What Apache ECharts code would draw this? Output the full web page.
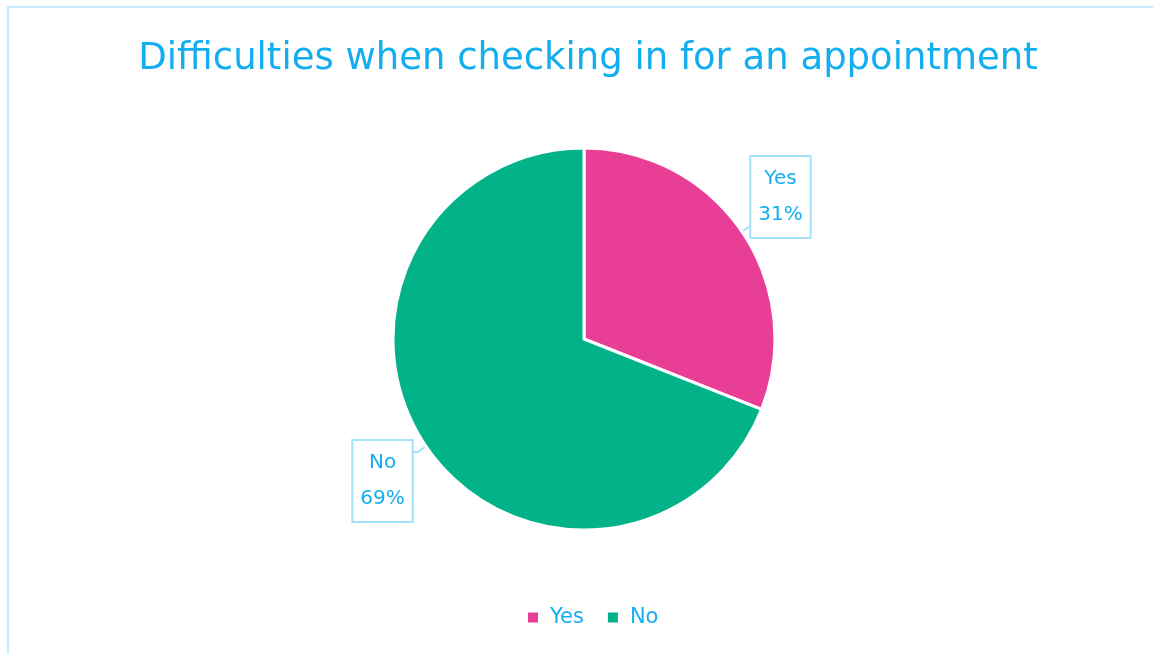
<!DOCTYPE html>
<html>
<head>
<meta charset="utf-8">
<script src="https://cdn.jsdelivr.net/npm/echarts@6/dist/echarts.min.js"></script>
<style>
html,body{margin:0;padding:0;background:#fff;overflow:hidden;}
#frame{position:absolute;left:7px;top:6px;width:1200px;height:700px;border:2px solid #c8ecfc;box-sizing:border-box;}
#chart{position:absolute;left:0;top:0;width:1153px;height:654px;}
</style>
</head>
<body>
<div id="frame"></div>
<div id="chart"></div>
<script>
const titleText = 'Difficulties when checking in for an appointment';
const categories = ['Yes', 'No'];
const values = [31, 69];
const colors = ['#e83e96', '#02b38a'];

const chart = echarts.init(document.getElementById('chart'));
const textColor = '#12aef0';
const font = 'DejaVu Sans';
chart.setOption({
  title: {
    text: titleText,
    left: 583,
    textAlign: 'center',
    top: 36,
    textStyle: { fontFamily: font, fontSize: 37, fontWeight: 'normal', color: textColor }
  },
  legend: {
    bottom: 21,
    left: 521,
    icon: 'rect',
    itemWidth: 12,
    itemHeight: 12,
    itemGap: 22,
    formatter: '{t|{name}}',
    textStyle: {
      fontFamily: font, fontSize: 21, color: textColor,
      rich: { t: { fontFamily: font, fontSize: 21, color: textColor, padding: [0, 0, 0, 6] } }
    },
    data: categories
  },
  series: [{
    type: 'pie',
    center: [584, 339],
    radius: 191,
    startAngle: 90,
    clockwise: true,
    color: colors,
    itemStyle: { borderColor: '#fff', borderWidth: 3 },
    label: {
      show: true,
      position: 'outside',
      formatter: '{c|{b}}\n{c|{d}%}',
      color: textColor,
      borderColor: '#a6e1fb',
      borderWidth: 2,
      backgroundColor: '#fff',
      padding: [4, 7, 4, 7],
      rich: {
        c: { fontFamily: font, fontSize: 20, lineHeight: 36, color: textColor, align: 'center' }
      }
    },
    labelLine: { show: true, length: 10, length2: 6, lineStyle: { color: '#a6e1fb', width: 2 } },
    labelLayout: function (p) {
      return p.dataIndex === 0 ? { dy: -29, dx: -10 } : { dy: 29, dx: 5 };
    },
    data: categories.map((c, i) => ({ name: c, value: values[i] }))
  }]
});
</script>
</body>
</html>
